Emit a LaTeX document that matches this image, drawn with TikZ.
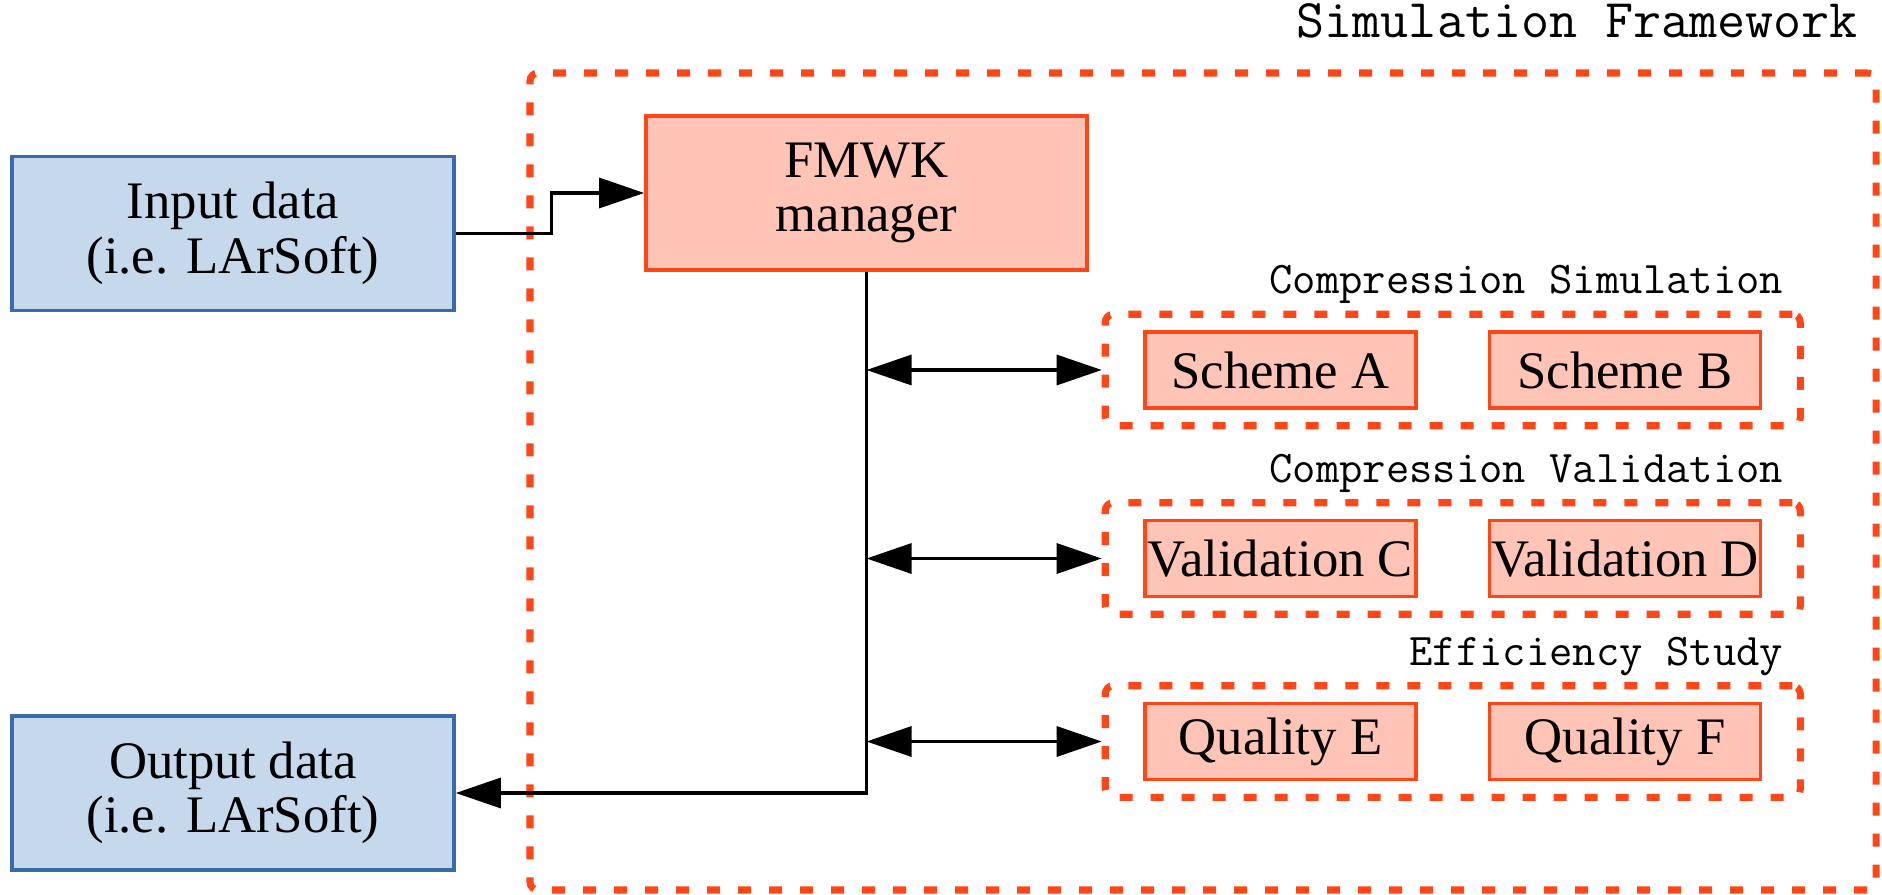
\documentclass[tikz,border=0pt]{standalone}
\usepackage{fontspec}
\setmainfont{Liberation Serif}
\usetikzlibrary{arrows.meta,positioning,calc,fit}
\definecolor{iofill}{RGB}{198,217,236}
\definecolor{ioedge}{RGB}{58,106,170}
\definecolor{modfill}{RGB}{255,196,181}
\definecolor{modedge}{RGB}{255,70,22}
\tikzset{iobox/.style={draw=ioedge,line width=1pt,fill=iofill,minimum width=4.42cm,minimum height=1.54cm,align=center,font=\fontsize{15}{15.5}\selectfont},modbox/.style={draw=modedge,line width=1pt,fill=modfill,minimum width=2.71cm,minimum height=0.76cm,inner sep=0pt,align=center,font=\fontsize{15}{15.5}\selectfont},dashframe/.style={draw=modedge,line width=2pt,dash pattern=on 0.13cm off 0.18cm,rounded corners=0.8mm},grouptag/.style={font=\ttfamily\fontsize{12.9}{14}\selectfont,inner sep=0pt,anchor=base east},flow/.style={-{Triangle[length=4.5mm,width=3mm]},line width=0.9pt},biflow/.style={{Triangle[length=4.5mm,width=3mm]}-{Triangle[length=4.5mm,width=3mm]},line width=0.9pt}}

\begin{document}
\begin{tikzpicture}[node distance=0.7cm]
\useasboundingbox (0,0) rectangle (18.82,8.94);
% data in and out
\node[iobox] (in) at (2.33,6.605) {Input data\\(i.e. LArSoft)};
\node[iobox] (out) at (2.33,1.01) {Output data\\(i.e. LArSoft)};
% framework boundary
\node[dashframe,minimum width=13.46cm,minimum height=8.17cm] (fw) at (12.03,4.125) {};
\node[grouptag,font=\ttfamily\fontsize{15.5}{17}\selectfont] (fwtag) at ($(fw.north east)+(-0.21,0.32)$) {Simulation Framework};
\node[modbox,minimum width=4.41cm,minimum height=1.54cm] (mgr) at (8.665,7.01) {FMWK\\manager};
% modules
\node[modbox] (schA) at (12.805,5.24) {Scheme A};
\node[modbox,right=of schA] (schB) {Scheme B};
\node[modbox] (valC) at (12.805,3.355) {Validation C};
\node[modbox,right=of valC] (valD) {Validation D};
\node[modbox] (qualE) at (12.805,1.525) {Quality E};
\node[modbox,right=of qualE] (qualF) {Quality F};
\node[dashframe,fit=(schA)(schB),inner xsep=0.38cm,inner ysep=0.16cm] (sim) {};
\node[dashframe,fit=(valC)(valD),inner xsep=0.38cm,inner ysep=0.16cm] (val) {};
\node[dashframe,fit=(qualE)(qualF),inner xsep=0.38cm,inner ysep=0.16cm] (eff) {};
\node[grouptag] (simtag) at ($(sim.north east)+(-0.2,0.17)$) {Compression Simulation};
\node[grouptag] (valtag) at ($(val.north east)+(-0.2,0.17)$) {Compression Validation};
\node[grouptag] (efftag) at ($(eff.north east)+(-0.2,0.17)$) {Efficiency Study};
% taps on the manager trunk
\coordinate (tapsim) at (mgr.south |- sim.west);
\coordinate (tapval) at (mgr.south |- val.west);
\coordinate (tapeff) at (mgr.south |- eff.west);
\draw[flow] (in.east) -- ($(in.east)+(0.96,0)$) |- (mgr.west);
\draw[flow] (mgr) |- (out);
\draw[biflow] (tapsim) -- (sim);
\draw[biflow] (tapval) -- (val);
\draw[biflow] (tapeff) -- (eff);
\end{tikzpicture}
\end{document}
